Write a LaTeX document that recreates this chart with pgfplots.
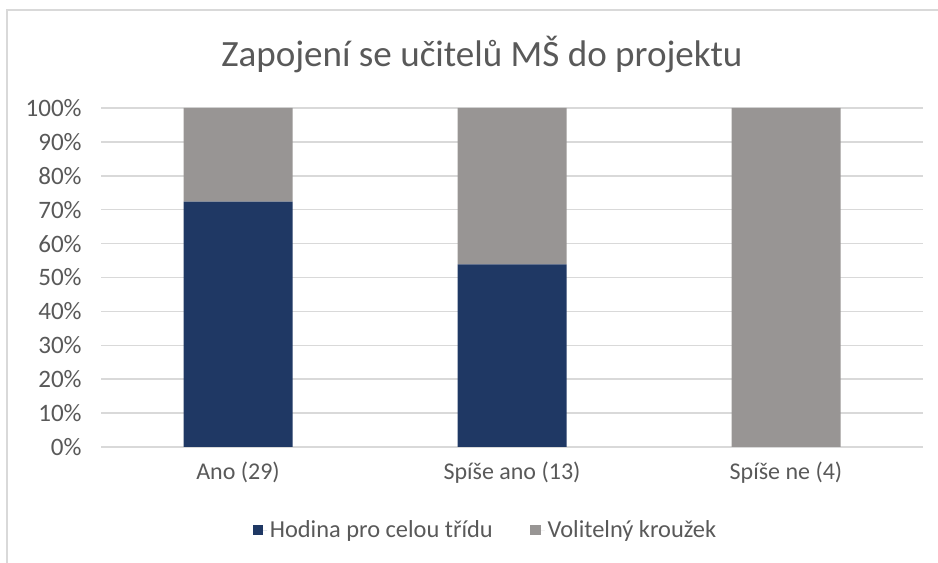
\documentclass[border=0pt]{standalone}
\usepackage{pgfplots}
\pgfplotsset{compat=1.18}
\usepackage{fontspec}
\setmainfont{Carlito}
\definecolor{txt}{RGB}{89,89,89}
\definecolor{gridc}{RGB}{217,217,217}
\definecolor{frm}{RGB}{217,217,217}
\definecolor{bblue}{RGB}{31,56,100}
\definecolor{bgrey}{RGB}{152,149,148}
\begin{document}
\begin{tikzpicture}
\useasboundingbox (0,0) rectangle (703.5pt,422.25pt);
\draw[frm, line width=1.5pt] (5.6pt,-2pt) -- (5.6pt,414.75pt) -- (710pt,414.75pt);
\node[txt, font=\fontsize{27.8pt}{32pt}\selectfont] at (361.5pt,381pt) {Zapojení se učitelů MŠ do projektu};
\begin{axis}[
  at={(75.75pt,87pt)}, anchor=south west,
  scale only axis, width=616.5pt, height=254.25pt,
  ybar stacked, bar width=81.75pt,
  xmin=-0.5, xmax=2.5, ymin=0, ymax=100, enlargelimits=false,
  xtick={0,1,2}, xticklabels={Ano (29), Spíše ano (13), Spíše ne (4)},
  ytick={0,10,...,100},
  yticklabel={\pgfmathprintnumber{\tick}\%},
  /pgf/number format/assume math mode=true,
  ticklabel style={font=\fontsize{18pt}{21pt}\selectfont, text=txt},
  yticklabel style={xshift=-11pt, font=\fontsize{18.8pt}{22pt}\selectfont},
  xticklabel style={yshift=-8pt},
  axis line style={draw=none},
  tick style={draw=none},
  ymajorgrids, grid style={gridc, line width=1.1pt},
  legend columns=2,
  legend style={at={(0.468,-0.245)}, anchor=center, draw=none, fill=none,
    font=\fontsize{18.3pt}{21pt}\selectfont, text=txt,
    /tikz/every even column/.append style={column sep=26pt}},
  legend image code/.code={\fill[#1] (0pt,-4pt) rectangle (8pt,4pt); \path (8pt,0pt) -- (11pt,0pt);},
]
\addplot[fill=bblue, draw=none] coordinates {(0,72.41) (1,53.85) (2,0)};
\addplot[fill=bgrey, draw=none] coordinates {(0,27.59) (1,46.15) (2,100)};
\legend{Hodina pro celou třídu, Volitelný kroužek}
\end{axis}
\end{tikzpicture}
\end{document}
